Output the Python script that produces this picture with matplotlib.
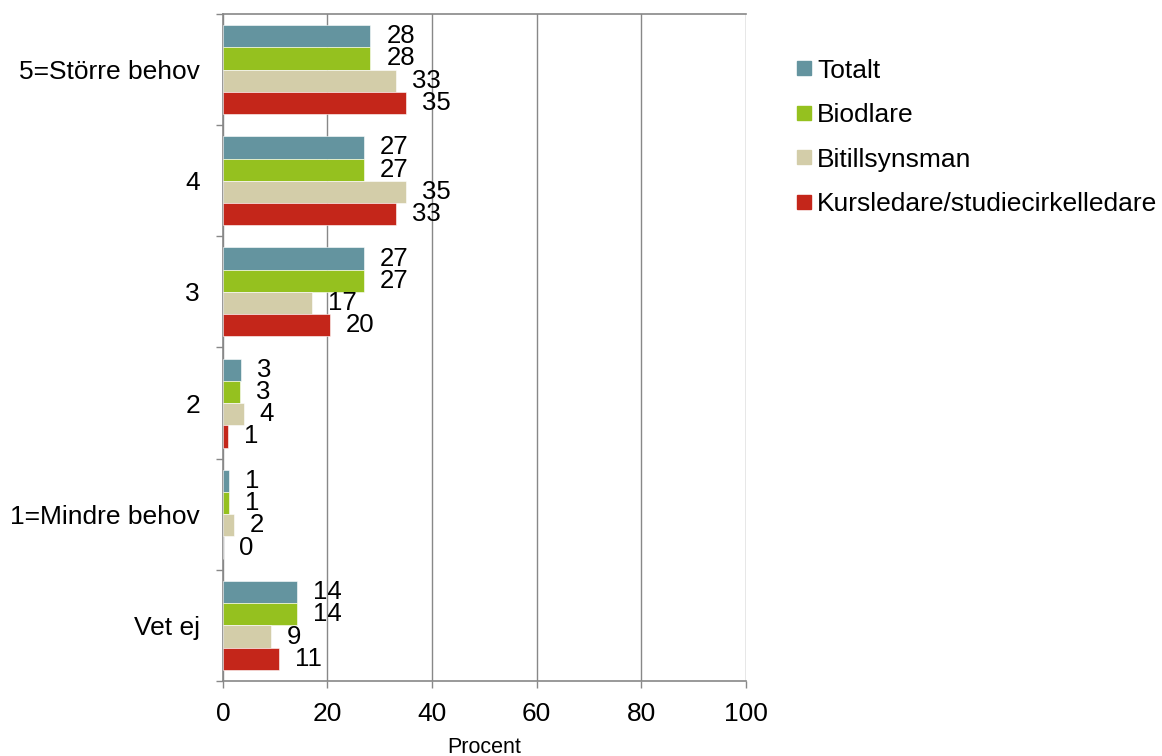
import matplotlib.pyplot as plt
from matplotlib.lines import Line2D
import numpy as np

plt.rcParams["font.family"] = ["Liberation Sans", "DejaVu Sans"]

categories = ["5=Större behov", "4", "3", "2", "1=Mindre behov", "Vet ej"]
series = ["Totalt", "Biodlare", "Bitillsynsman", "Kursledare/studiecirkelledare"]
totalt = [28.2, 26.9, 26.9, 3.4, 1.2, 14.1]
biodlare = [28.2, 26.9, 26.9, 3.2, 1.1, 14.1]
bitillsynsman = [33.1, 35.1, 17.1, 4.0, 2.1, 9.1]
kursledare = [35.0, 33.1, 20.4, 1.0, 0.0, 10.8]
colors = ["#64949f", "#95c11f", "#d3cda9", "#c4261a"]

fig = plt.figure(figsize=(11.62, 7.56), dpi=100)
ax = fig.add_axes([0.1919, 0.0992, 0.4497, 0.8823])

y = np.arange(len(categories))
h = 0.2
for j, (name, vals) in enumerate(zip(series, [totalt, biodlare, bitillsynsman, kursledare])):
    pos = y - 0.3 + h * j
    ax.barh(pos, vals, height=h, color=colors[j], edgecolor="white", linewidth=0.4, zorder=3)
    for p, v in zip(pos, vals):
        ax.annotate(f"{v:.0f}", (v, p), xytext=(11.5, 0), textcoords="offset points",
                    ha="left", va="center", fontsize=18.5, zorder=4)

ax.set_xlim(0, 100)
ax.set_ylim(5.5, -0.5)
ax.set_xticks(np.arange(0, 101, 20))
ax.set_yticks(y)
ax.set_yticklabels(categories)
ax.set_yticks(np.arange(-0.5, 6, 1), minor=True)
ax.tick_params(axis="y", which="major", length=0, pad=16.5, labelsize=19)
ax.tick_params(axis="y", which="minor", length=5, color="#888888", width=1)
ax.tick_params(axis="x", length=5, color="#888888", width=1, pad=10, labelsize=19)
ax.xaxis.grid(True, color="#888888", linewidth=1, zorder=0)
for side in ["left", "bottom", "top"]:
    ax.spines[side].set_color("#888888")
    ax.spines[side].set_linewidth(1.2)
ax.spines["right"].set_visible(False)
ax.set_xlabel("Procent", fontsize=15.5, labelpad=8)

handles = [Line2D([], [], marker="s", linestyle="none", markersize=10, color=c) for c in colors]
fig.legend(handles, series, loc="upper left", bbox_to_anchor=(0.669, 0.940), frameon=False,
           fontsize=19, handletextpad=0.0, labelspacing=0.78, handlelength=1.0, borderpad=0)

fig.savefig("out.png", dpi=100)
